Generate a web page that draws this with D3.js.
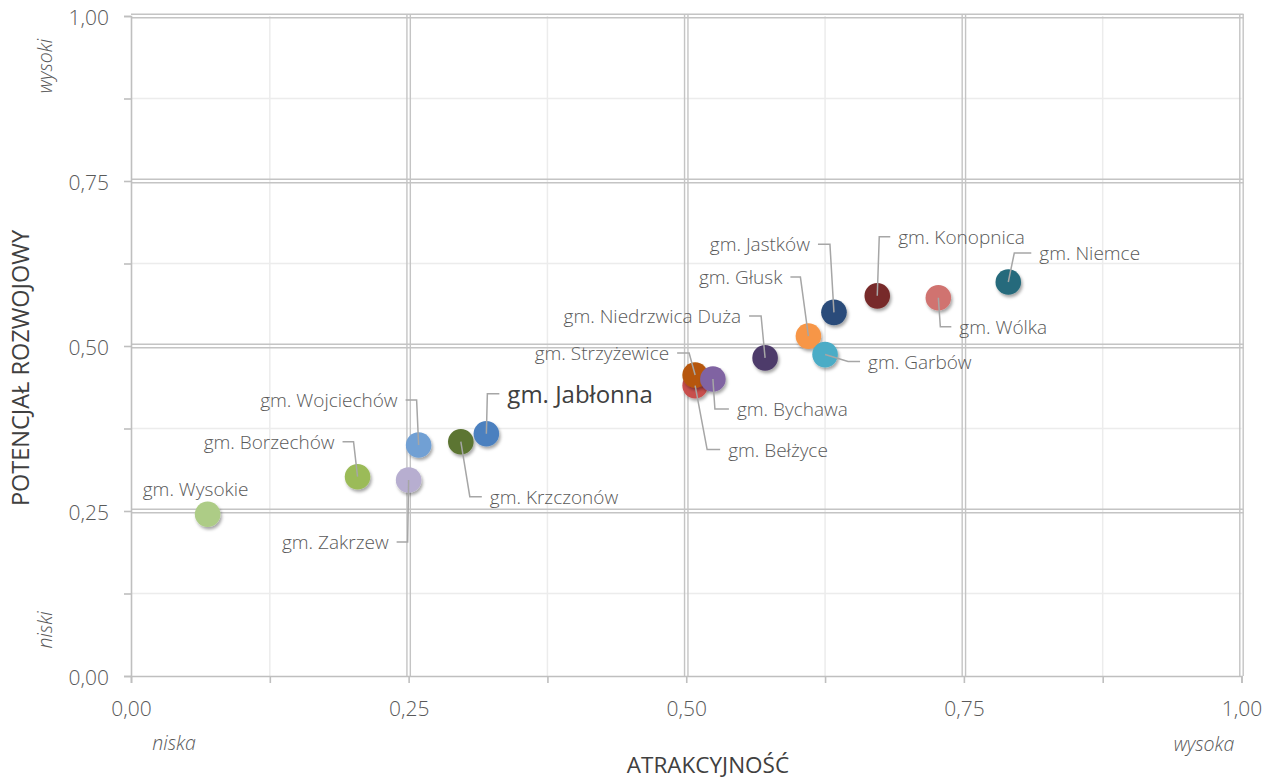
<!DOCTYPE html>
<html><head><meta charset="utf-8">
<script src="https://cdn.jsdelivr.net/npm/d3@7"></script>
<style>
html,body{margin:0;padding:0;background:#fff;}
svg{display:block;font-family:"Open Sans","Noto Sans",sans-serif;}
</style></head>
<body>
<svg id="chart" width="1276" height="778"></svg>
<script>
// ---- data ----
const names = ["gm. Wysokie","gm. Borzechów","gm. Zakrzew","gm. Wojciechów","gm. Krzczonów","gm. Jabłonna",
  "gm. Bełżyce","gm. Strzyżewice","gm. Bychawa","gm. Niedrzwica Duża","gm. Głusk","gm. Garbów",
  "gm. Jastków","gm. Konopnica","gm. Wólka","gm. Niemce"];
const attractiveness = [0.069,0.204,0.250,0.259,0.297,0.320,0.508,0.508,0.524,0.571,0.610,0.625,0.633,0.672,0.727,0.790];
const potential      = [0.245,0.302,0.297,0.350,0.355,0.367,0.440,0.456,0.450,0.482,0.515,0.487,0.551,0.576,0.573,0.597];
const pointColors = ["#adcc86","#9bbb59","#b7aed0","#71a0d4","#5b7431","#4c80bf","#c8504e","#b65708","#8064a2",
  "#4e3b6a","#f79646","#4bacc6","#2a4c7a","#772c2a","#d07370","#266b7b"];
const tickValues = [0,0.25,0.5,0.75,1];
const minorValues = [0.125,0.375,0.625,0.875];
const fmt = d => d.toFixed(2).replace(".", ",");

// label layout: elbow offset (ex,ey), end offset (tx) relative to point, text anchor
const labelLayout = [
  {none:true, dx:-12, dy:-25, anchor:"middle"},
  {ex:-4, ey:-35, tx:-15, anchor:"end"},
  {ex:-1, ey:62, tx:-12, anchor:"end"},
  {ex:-2, ey:-45, tx:-13, anchor:"end"},
  {ex:9, ey:55, tx:21, anchor:"start"},
  {ex:1, ey:-40, tx:13, anchor:"start", big:true},
  {ex:12, ey:64, tx:25, anchor:"start"},
  {ex:-6, ey:-22, tx:-18, anchor:"end"},
  {ex:2, ey:30, tx:16, anchor:"start"},
  {ex:-4, ey:-42, tx:-16, anchor:"end"},
  {ex:-8, ey:-59, tx:-18, anchor:"end"},
  {ex:23, ey:7, tx:35, anchor:"start"},
  {ex:-4, ey:-68, tx:-16, anchor:"end"},
  {ex:2, ey:-59, tx:13, anchor:"start"},
  {ex:2, ey:29, tx:13, anchor:"start"},
  {ex:6, ey:-29, tx:23, anchor:"start"}
];

const svg = d3.select("#chart");
const x = d3.scaleLinear().domain([0,1]).range([131,1241.5]);
const y = d3.scaleLinear().domain([0,1]).range([676,16]);

const defs = svg.append("defs");
const f = defs.append("filter").attr("id","sh").attr("x","-50%").attr("y","-50%").attr("width","200%").attr("height","200%");
f.append("feDropShadow").attr("dx",1.5).attr("dy",2.5).attr("stdDeviation",1.6).attr("flood-color","#000").attr("flood-opacity",0.35);

const g = svg.append("g");
// minor grid
g.selectAll(".mx").data(minorValues).join("line")
  .attr("x1",d=>x(d)).attr("x2",d=>x(d)).attr("y1",y(1)).attr("y2",y(0))
  .attr("stroke","#ececec").attr("stroke-width",1.5);
g.selectAll(".my").data(minorValues).join("line")
  .attr("y1",d=>y(d)).attr("y2",d=>y(d)).attr("x1",x(0)).attr("x2",x(1))
  .attr("stroke","#ececec").attr("stroke-width",1.5);
// major double grid
const majors = tickValues.slice(1);
[-1.7,1.7].forEach(off=>{
  g.selectAll(null).data(majors).join("line")
    .attr("x1",d=>x(d)+off).attr("x2",d=>x(d)+off).attr("y1",y(1)-2).attr("y2",y(0))
    .attr("stroke","#c4c4c4").attr("stroke-width",1.4);
  g.selectAll(null).data(majors).join("line")
    .attr("y1",d=>y(d)+off).attr("y2",d=>y(d)+off).attr("x1",x(0)).attr("x2",x(1)+2)
    .attr("stroke","#c4c4c4").attr("stroke-width",1.4);
});

// axes
const allTicks = tickValues.concat(minorValues).sort();
const xAxis = d3.axisBottom(x).tickValues(allTicks).tickSize(7).tickFormat(d=>tickValues.includes(d)?fmt(d):"");
const yAxis = d3.axisLeft(y).tickValues(allTicks).tickSize(7).tickFormat(d=>tickValues.includes(d)?fmt(d):"");
const gx = svg.append("g").attr("transform",`translate(0,${y(0)})`).call(xAxis);
const gy = svg.append("g").attr("transform",`translate(${x(0)},0)`).call(yAxis);
[gx,gy].forEach(a=>{
  a.select(".domain").attr("stroke","#bfbfbf").attr("stroke-width",1.6);
  a.selectAll(".tick line").attr("stroke","#bfbfbf").attr("stroke-width",1.6);
  a.selectAll(".tick text").attr("fill","#595959").attr("font-size",21).attr("font-weight",300)
    .attr("font-family","Open Sans, sans-serif").attr("dominant-baseline","central").attr("dy",null);
});
gx.selectAll(".tick text").attr("y",32);
gy.selectAll(".tick text").attr("x",-22);

// axis titles and hints
svg.append("text").attr("x",708).attr("y",764).attr("text-anchor","middle").attr("dominant-baseline","central")
  .attr("font-size",22.5).attr("fill","#404040").text("ATRAKCYJNOŚĆ");
svg.append("text").attr("transform","translate(20,368) rotate(-90)").attr("text-anchor","middle").attr("dominant-baseline","central")
  .attr("font-size",23.5).attr("fill","#404040").text("POTENCJAŁ ROZWOJOWY");
svg.append("text").attr("transform","translate(44,66) rotate(-90)").attr("text-anchor","middle").attr("dominant-baseline","central")
  .attr("font-size",19.5).attr("font-weight",300).attr("font-style","italic").attr("fill","#595959").text("wysoki");
svg.append("text").attr("transform","translate(44,630) rotate(-90)").attr("text-anchor","middle").attr("dominant-baseline","central")
  .attr("font-size",19.5).attr("font-weight",300).attr("font-style","italic").attr("fill","#595959").text("niski");
svg.append("text").attr("x",174).attr("y",742).attr("text-anchor","middle").attr("dominant-baseline","central")
  .attr("font-size",19.5).attr("font-weight",300).attr("font-style","italic").attr("fill","#595959").text("niska");
svg.append("text").attr("x",1204).attr("y",743).attr("text-anchor","middle").attr("dominant-baseline","central")
  .attr("font-size",19.5).attr("font-weight",300).attr("font-style","italic").attr("fill","#595959").text("wysoka");

// data
const data = names.map((n,i)=>({name:n, x:attractiveness[i], y:potential[i], c:pointColors[i], L:labelLayout[i]}));

// points
svg.append("g").selectAll("circle").data(data).join("circle")
  .attr("cx",d=>x(d.x)).attr("cy",d=>y(d.y)).attr("r",12.8)
  .attr("fill",d=>d.c).attr("filter","url(#sh)");

// leader lines
svg.append("g").selectAll("path").data(data.filter(d=>!d.L.none)).join("path")
  .attr("d",d=>{
    const px=x(d.x), py=y(d.y);
    return `M${px},${py}L${px+d.L.ex},${py+d.L.ey}L${px+d.L.tx},${py+d.L.ey}`;
  })
  .attr("fill","none").attr("stroke","#a6a6a6").attr("stroke-width",1.5);

// labels
svg.append("g").selectAll("text").data(data).join("text")
  .attr("x",d=>{
    const px=x(d.x);
    if(d.L.none) return px+d.L.dx;
    return px+d.L.tx+(d.L.anchor==="end"?-8:8);
  })
  .attr("y",d=> y(d.y)+(d.L.none?d.L.dy:d.L.ey))
  .attr("text-anchor",d=>d.L.anchor)
  .attr("dominant-baseline","central")
  .attr("font-size",d=>d.L.big?24:19)
  .attr("font-weight",d=>d.L.big?500:300)
  .attr("fill",d=>d.L.big?"#404040":"#595959")
  .text(d=>d.name);
</script>
</body></html>
